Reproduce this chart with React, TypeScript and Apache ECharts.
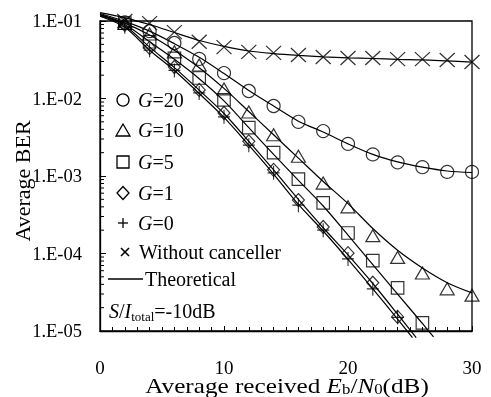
import React, { useEffect, useRef } from 'react';
import * as echarts from 'echarts';

const FONT = '"Liberation Serif", "Times New Roman", serif';

// Simulated points (Eb/N0 in dB)
const snrDb = [2, 4, 6, 8, 10, 12, 14, 16, 18, 20, 22, 24, 26, 28, 30];
const berG20 = [0.096, 0.074, 0.052, 0.0324, 0.0213, 0.0125, 0.008, 0.005, 0.0038, 0.0026, 0.0019, 0.0015, 0.0013, 0.00113, 0.00113];
const berG10 = [0.093, 0.068, 0.04, 0.027, 0.0133, 0.0067, 0.0034, 0.0018, 0.00081, 0.0004, 0.00017, 8.9e-5, 5.6e-5, 3.5e-5, 2.9e-5];
const berG5 = [0.094, 0.054, 0.033, 0.0184, 0.0096, 0.0042, 0.002, 0.00091, 0.00045, 0.000184, 8.1e-5, 3.6e-5, 1.27e-5];
const berG1 = [0.089, 0.045, 0.0255, 0.0129, 0.0065, 0.0028, 0.0012, 0.00049, 0.00022, 0.000101, 4.2e-5, 1.52e-5];
const berG0 = [0.084, 0.042, 0.023, 0.0118, 0.0058, 0.0025, 0.0011, 0.00042, 0.0002, 8.5e-5, 3.5e-5, 1.5e-5];
const berNoCanc = [0.1, 0.094, 0.072, 0.054, 0.046, 0.04, 0.0387, 0.0364, 0.0343, 0.0333, 0.0333, 0.0323, 0.0323, 0.0314, 0.0296];

// Theoretical curves [Eb/N0, BER]
const theoryNoCanc = [[0, 0.128], [2, 0.11], [4, 0.09], [6, 0.071], [8, 0.056], [10, 0.047], [12, 0.041], [14, 0.038], [16, 0.036], [18, 0.0345], [20, 0.0335], [22, 0.0328], [24, 0.032], [26, 0.0315], [28, 0.0305], [30, 0.0295]];
const theoryG20 = [[0, 0.125], [2, 0.099], [4, 0.074], [6, 0.051], [8, 0.034], [10, 0.021], [12, 0.0127], [14, 0.008], [16, 0.0051], [18, 0.0037], [20, 0.0026], [22, 0.0019], [24, 0.00152], [26, 0.0013], [28, 0.00116], [30, 0.00111]];
const theoryG10 = [[0, 0.122], [2, 0.094], [4, 0.066], [6, 0.042], [8, 0.025], [10, 0.0135], [12, 0.0068], [14, 0.0034], [16, 0.0017], [18, 0.00085], [20, 0.00044], [22, 0.00021], [24, 0.00011], [26, 6.5e-5], [28, 4.2e-5], [30, 3.1e-5]];
const theoryG5 = [[0, 0.12], [2, 0.09], [4, 0.054], [6, 0.032], [8, 0.018], [10, 0.0093], [12, 0.0042], [14, 0.0019], [16, 0.00088], [18, 0.00041], [20, 0.000173], [22, 7.2e-5], [24, 3.0e-5], [26, 1.25e-5], [26.9, 8.4e-6]];
const theoryG1 = [[0, 0.117], [2, 0.087], [4, 0.046], [6, 0.025], [8, 0.0128], [10, 0.0064], [12, 0.0028], [14, 0.0012], [16, 0.0005], [18, 0.000215], [20, 9.6e-5], [22, 4.1e-5], [24, 1.65e-5], [25.5, 8.2e-6]];
const theoryG0 = [[0, 0.115], [2, 0.083], [4, 0.042], [6, 0.023], [8, 0.0116], [10, 0.0057], [12, 0.0025], [14, 0.00106], [16, 0.00043], [18, 0.000195], [20, 8.4e-5], [22, 3.5e-5], [24, 1.42e-5], [25.2, 8.2e-6]];

// Log minor tick values on the y axis
const minorMantissas = [2, 3, 4, 5, 6, 7, 8, 9];
const decades = [1e-5, 1e-4, 1e-3, 1e-2];
const yMinorTicks = decades.flatMap((d) => minorMantissas.map((m) => m * d));

const PLUS = 'path://M0,5L10,5M5,0L5,10';
const CROSS = 'path://M0,0L10,10M10,0L0,10';

const rich = {
  n: { fontFamily: FONT, fontSize: 20, color: '#000', lineHeight: 24 },
  i: { fontFamily: FONT, fontSize: 20, color: '#000', fontStyle: 'italic', lineHeight: 24 },
  s: { fontFamily: FONT, fontSize: 13, color: '#000', lineHeight: 14, verticalAlign: 'bottom' },
};
const richTitle = {
  n: { fontFamily: FONT, fontSize: 21, color: '#000', lineHeight: 20 },
  i: { fontFamily: FONT, fontSize: 21, color: '#000', fontStyle: 'italic', lineHeight: 20 },
  s: { fontFamily: FONT, fontSize: 14, color: '#000', lineHeight: 9, verticalAlign: 'bottom' },
};

function pts(xs: number[], ys: number[]) {
  return ys.map((y, i) => [xs[i], y]);
}

export default function App() {
  const ref = useRef<HTMLDivElement>(null);
  useEffect(() => {
    if (!ref.current) return;
    const chart = echarts.init(ref.current, undefined, { renderer: 'svg' });
    const mk = { color: 'rgba(0,0,0,0)', borderColor: '#000', borderWidth: 1.2 };
    const scatter = (name: string, data: number[][], symbol: string, size: any) => ({
      name, type: 'scatter', data, symbol, symbolSize: size, itemStyle: mk, clip: false, z: 4, silent: true,
    });
    const line = (name: string, data: number[][]) => ({
      name, type: 'line', data, symbol: 'none', smooth: 0.3, clip: false, z: 3, silent: true,
      lineStyle: { color: '#000', width: 1.2 },
    });
    const lx = 123;
    const txt = (x: number, y: number, text: string) => ({
      type: 'text', x, y, silent: true,
      style: { text, rich, fontFamily: FONT, fontSize: 20, fill: '#000', align: 'left', verticalAlign: 'middle' },
    });
    const stroke = { fill: 'none', stroke: '#000', lineWidth: 1.3 };
    chart.setOption({
      animation: false,
      grid: { left: 100, right: 19, top: 21, bottom: 66, show: true, borderColor: '#000', borderWidth: 1.3 },
      xAxis: {
        type: 'value', min: 0, max: 30, interval: 10,
        axisLine: { show: true, onZero: false, lineStyle: { color: '#000', width: 1.3 } },
        axisTick: { show: true, inside: true, length: 5, lineStyle: { color: '#000', width: 1 } },
        minorTick: { show: true, splitNumber: 10, length: 4, lineStyle: { color: '#000', width: 1 } },
        splitLine: { show: false },
        axisLabel: { margin: 27, color: '#000', fontFamily: FONT, fontSize: 19 },
      },
      yAxis: {
        type: 'log', logBase: 10, min: 1e-5, max: 0.1,
        axisLine: { show: true, lineStyle: { color: '#000', width: 1.3 } },
        axisTick: { show: true, inside: true, length: 6, lineStyle: { color: '#000', width: 1 } },
        splitLine: { show: false },
        axisLabel: {
          margin: 18, color: '#000', fontFamily: FONT, fontSize: 18.5,
          formatter: (v: number) => {
            const e = Math.round(Math.log10(v));
            return '1.E' + (e < 0 ? '-' : '+') + String(Math.abs(e)).padStart(2, '0');
          },
        },
      },
      series: [
        line('thNoCanc', theoryNoCanc),
        line('thG20', theoryG20),
        line('thG10', theoryG10),
        line('thG5', theoryG5),
        line('thG1', theoryG1),
        line('thG0', theoryG0),
        scatter('G=20', pts(snrDb, berG20), 'circle', 13),
        scatter('G=10', pts(snrDb, berG10), 'triangle', [14, 12]),
        scatter('G=5', pts(snrDb, berG5), 'rect', 12.5),
        scatter('G=1', pts(snrDb, berG1), 'diamond', [12, 13]),
        scatter('G=0', pts(snrDb, berG0), PLUS, [12, 14]),
        scatter('Without canceller', pts(snrDb, berNoCanc), CROSS, [15, 14]),
        {
          type: 'custom', silent: true, clip: false, z: 5,
          data: yMinorTicks.map((v) => [0, v]),
          renderItem: (_p: any, api: any) => {
            const p = api.coord([api.value(0), api.value(1)]);
            return { type: 'line', shape: { x1: p[0], y1: p[1], x2: p[0] + 4, y2: p[1] }, style: { stroke: '#000', lineWidth: 1 } };
          },
        },
      ],
      graphic: [
        { type: 'circle', shape: { cx: lx, cy: 100, r: 6 }, style: stroke },
        { type: 'polygon', shape: { points: [[lx, 124], [lx + 7, 136], [lx - 7, 136]] }, style: stroke },
        { type: 'rect', shape: { x: lx - 6, y: 156, width: 12, height: 12 }, style: stroke },
        { type: 'polygon', shape: { points: [[lx, 186.5], [lx + 6, 193], [lx, 199.5], [lx - 6, 193]] }, style: stroke },
        { type: 'line', shape: { x1: lx - 5, y1: 223, x2: lx + 5, y2: 223 }, style: stroke },
        { type: 'line', shape: { x1: lx, y1: 218, x2: lx, y2: 228 }, style: stroke },
        { type: 'line', shape: { x1: lx - 2, y1: 248, x2: lx + 6, y2: 256 }, style: { ...stroke, lineWidth: 1.6 } },
        { type: 'line', shape: { x1: lx + 6, y1: 248, x2: lx - 2, y2: 256 }, style: { ...stroke, lineWidth: 1.6 } },
        { type: 'line', shape: { x1: 108, y1: 279, x2: 143, y2: 279 }, style: stroke },
        txt(138, 100, '{i|G}{n|=20}'),
        txt(138, 130, '{i|G}{n|=10}'),
        txt(138, 162, '{i|G}{n|=5}'),
        txt(138, 193, '{i|G}{n|=1}'),
        txt(138, 223, '{i|G}{n|=0}'),
        txt(139, 252, '{n|Without canceller}'),
        txt(145, 279, '{n|Theoretical}'),
        txt(109, 311, '{i|S}{n|/}{i|I}{s|total}{n|=-10dB}'),
        {
          type: 'text', x: 22, y: 181, rotation: Math.PI / 2, silent: true,
          style: { text: 'Average BER', fontFamily: FONT, fontSize: 22, fill: '#000', align: 'center', verticalAlign: 'middle' },
        },
        {
          type: 'text', x: 287, y: 386, scaleX: 1.2, silent: true,
          style: {
            text: '{n|Average received }{i|E}{s|b}{n|/}{i|N}{s|0}{n|(dB)}', rich: richTitle,
            fontFamily: FONT, fontSize: 21, fill: '#000', align: 'center', verticalAlign: 'middle',
          },
        },
      ],
    });
    return () => chart.dispose();
  }, []);
  return <div ref={ref} style={{ position: 'fixed', left: 0, top: 0, width: 491, height: 397 }} />;
}
